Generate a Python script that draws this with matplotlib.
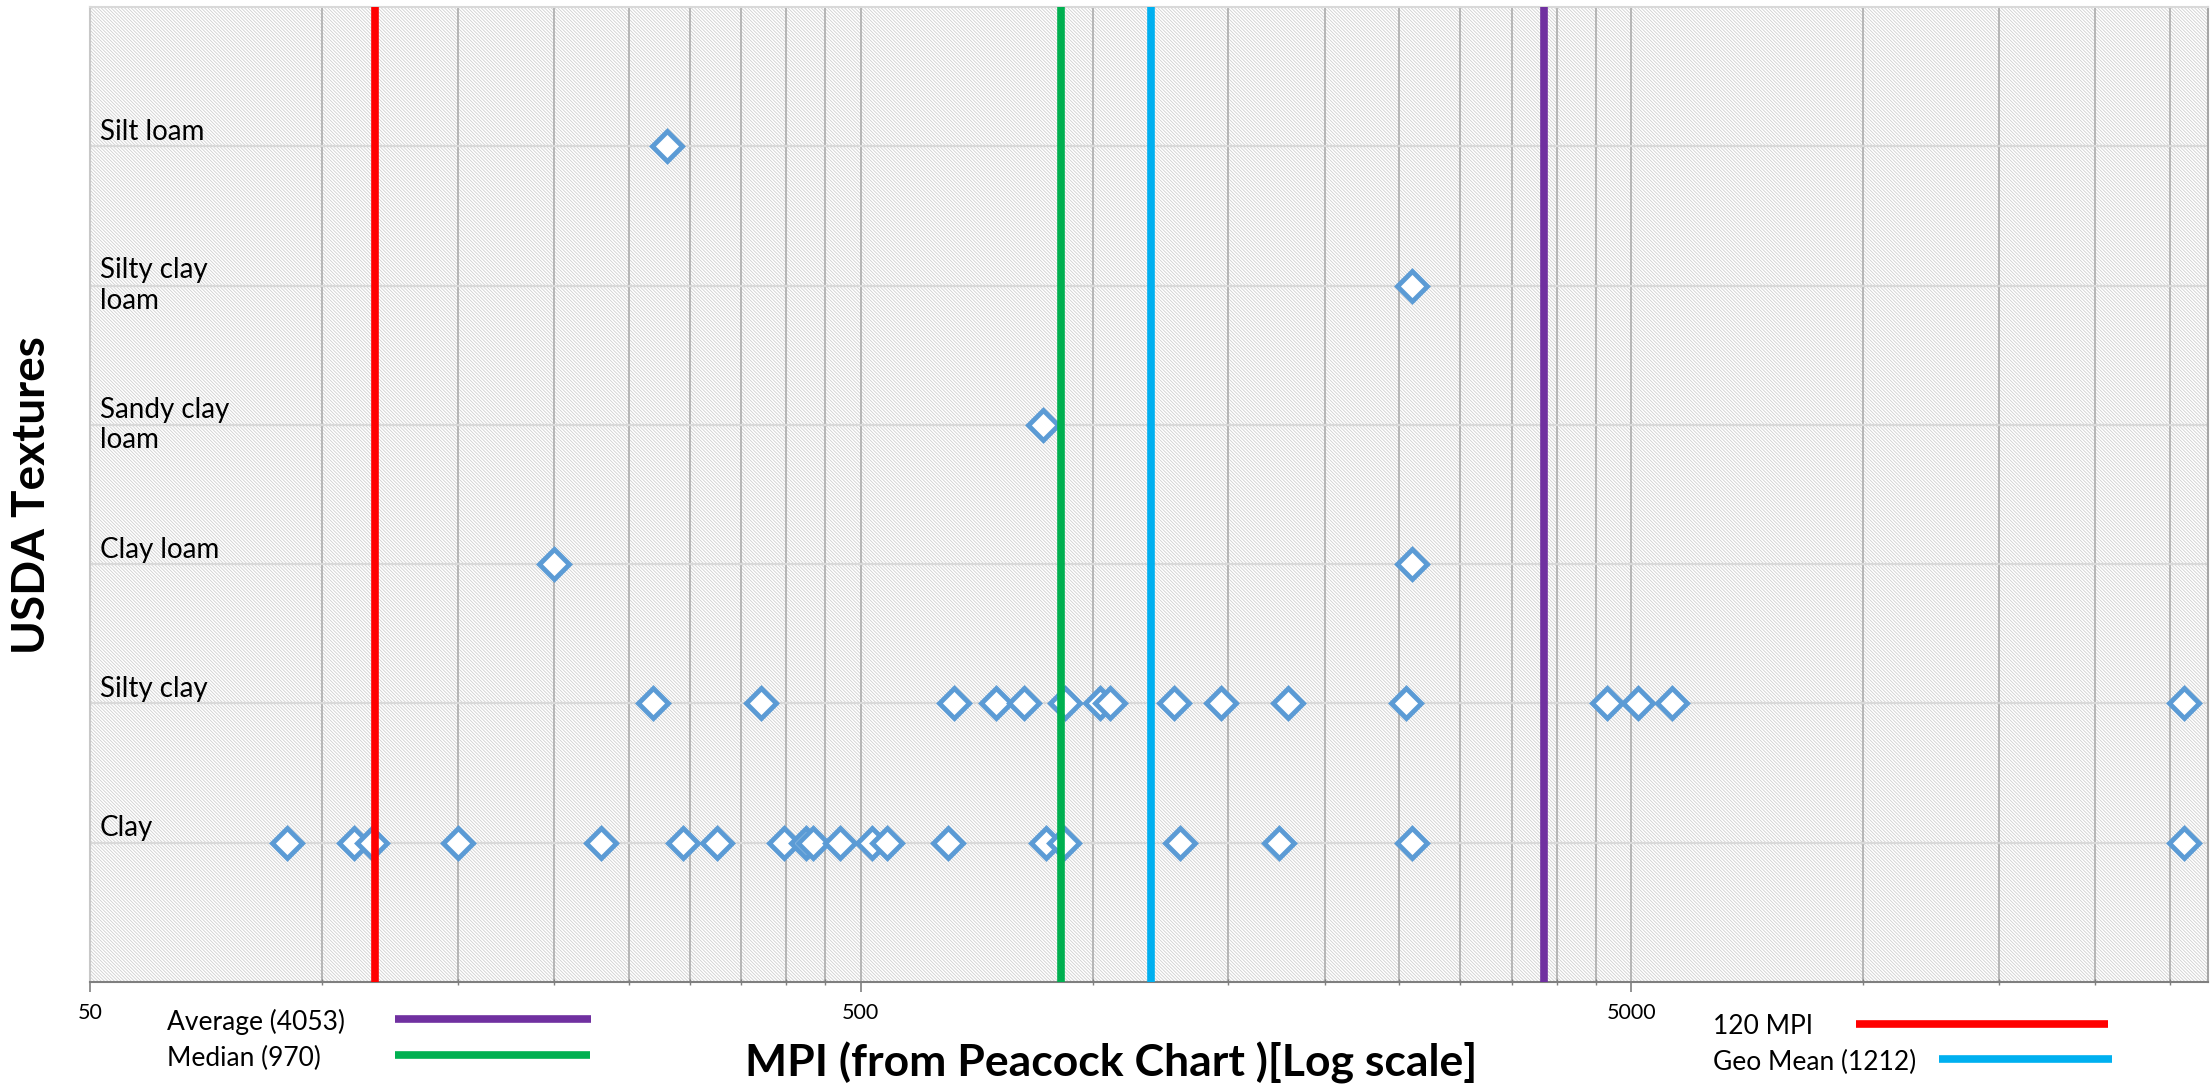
import matplotlib
matplotlib.use("Agg")
import matplotlib.pyplot as plt
from matplotlib.patches import Rectangle
from matplotlib.lines import Line2D
from matplotlib.ticker import FixedLocator, FixedFormatter, NullFormatter

plt.rcParams['font.family'] = ['Lato', 'DejaVu Sans']
plt.rcParams['hatch.linewidth'] = 0.6

# MPI values per texture
textures = ["Clay", "Silty clay", "Clay loam", "Sandy clay\nloam", "Silty clay\nloam", "Silt loam"]
clay = [90, 110, 116, 150, 230, 294, 325, 398, 425, 433, 470, 517, 541, 649,
        870, 918, 1299, 1746, 2598, 26030]
silty_clay = [269, 371, 661, 750, 815, 921, 1021, 1054, 1276, 1469, 1794, 2553,
              4654, 5105, 5651, 26030]
clay_loam = [200, 2598]
sandy_clay_loam = [862]
silty_clay_loam = [2598]
silt_loam = [280]
rows = [clay, silty_clay, clay_loam, sandy_clay_loam, silty_clay_loam, silt_loam]

# reference lines (drawn where they sit on the chart)
ref_names = ["Average (4053)", "Median (970)", "120 MPI", "Geo Mean (1212)"]
ref_values = [3855, 910, 117, 1190]
ref_colors = ["#7030A0", "#00B050", "#FF0000", "#00B0F0"]

major_ticks = [50, 500, 5000]
minor_ticks = [100, 150, 200, 250, 300, 350, 400, 450,
               1000, 1500, 2000, 2500, 3000, 3500, 4000, 4500,
               10000, 15000, 20000, 25000]

W, H = 2210, 1089
fig = plt.figure(figsize=(W / 100, H / 100), dpi=100)
ax = fig.add_axes([90 / W, 1 - 982 / H, (2208 - 90) / W, (982 - 7) / H])

ax.set_xscale("log")
ax.set_xlim(50, 28000)
ax.set_ylim(0, 7)

# hatched plot area
ax.add_patch(Rectangle((0, 0), 1, 1, transform=ax.transAxes, facecolor="white",
                       edgecolor="#d0d0d0", linewidth=0, hatch="\\" * 10, zorder=0))

ax.xaxis.set_major_locator(FixedLocator(major_ticks))
ax.xaxis.set_major_formatter(FixedFormatter([str(t) for t in major_ticks]))
ax.xaxis.set_minor_locator(FixedLocator(minor_ticks))
ax.xaxis.set_minor_formatter(NullFormatter())
ax.grid(True, which="both", axis="x", color="#a6a6a6", linewidth=1.1, zorder=1)

ax.set_yticks(range(1, 7))
ax.set_yticklabels([])
ax.grid(True, which="major", axis="y", color="#d9d9d9", linewidth=1.6, zorder=1)
ax.tick_params(axis="y", length=0)
ax.tick_params(axis="x", which="major", direction="out", length=7, width=1.2,
               color="#7f7f7f", pad=8, labelsize=15.5)
ax.tick_params(axis="x", which="minor", direction="inout", length=5, width=1.0,
               color="#7f7f7f")
ax.set_axisbelow(True)

ax.spines["bottom"].set_color("#7f7f7f")
ax.spines["bottom"].set_linewidth(1.5)
ax.spines["left"].set_color("#c8c8c8")
ax.spines["left"].set_linewidth(1.5)
ax.spines["top"].set_color("#d9d9d9")
ax.spines["top"].set_linewidth(1.5)
ax.spines["right"].set_color("#a6a6a6")
ax.spines["right"].set_linewidth(1.5)

for i, vals in enumerate(rows):
    ax.plot(vals, [i + 1] * len(vals), linestyle="none", marker="D", markersize=15,
            markerfacecolor="white", markeredgecolor="#5B9BD5", markeredgewidth=3.5,
            zorder=3)

for v, c in zip(ref_values, ref_colors):
    ax.axvline(v, color=c, linewidth=5.5, zorder=4)

# texture names inside the plot area
for i, name in enumerate(textures):
    if "\n" in name:
        ax.text(0.0045, i + 1, name, transform=ax.get_yaxis_transform(),
                fontsize=20, va="center", ha="left", linespacing=1.2, zorder=5)
    else:
        ax.text(0.0045, i + 1 + 0.045, name, transform=ax.get_yaxis_transform(),
                fontsize=20, va="baseline", ha="left", zorder=5)

fig.text(32 / W, 1 - 495 / H, "USDA Textures", rotation=90, fontsize=33,
         fontweight="bold", ha="center", va="center")
fig.text(1111 / W, 1 - 1063 / H, "MPI (from Peacock Chart )[Log scale]", fontsize=32,
         fontweight="bold", ha="center", va="center")

# hand-drawn legend below the axis
legend_layout = [
    (167, 1022, 395, 591),    # Average
    (167, 1058, 395, 590),    # Median
    (1713, 1027, 1856, 2108), # 120 MPI
    (1713, 1062, 1939, 2112), # Geo Mean
]
for (tx, ty, x0, x1), name, c in zip(legend_layout, ref_names, ref_colors):
    fig.text(tx / W, 1 - ty / H, name, fontsize=19, ha="left", va="center")
    ly = 1 - (ty - 3) / H
    fig.add_artist(Line2D([x0 / W, x1 / W], [ly, ly], color=c, linewidth=5.5,
                          transform=fig.transFigure, solid_capstyle="butt"))

fig.savefig("out.png", dpi=100)
